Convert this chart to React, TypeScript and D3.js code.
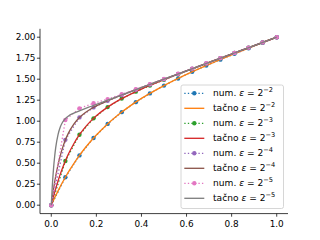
import React from 'react';
import * as d3 from 'd3';

// Numerical vs exact solutions for several epsilon values.
// Values.

const W = 320;
const H = 240;
const M = { left: 40, right: 288, top: 28.8, bottom: 213.6 };

const numX = [0, 0.0625, 0.125, 0.1875, 0.25, 0.3125, 0.375, 0.4375, 0.5,
  0.5625, 0.625, 0.6875, 0.75, 0.8125, 0.875, 0.9375, 1.0];
const numEps2 = [0, 0.333, 0.593, 0.8, 0.968, 1.108, 1.227, 1.331, 1.424,
  1.509, 1.588, 1.662, 1.733, 1.802, 1.869, 1.935, 2.0];
const numEps3 = [0, 0.527, 0.839, 1.034, 1.168, 1.269, 1.352, 1.425, 1.493,
  1.559, 1.623, 1.686, 1.749, 1.812, 1.875, 1.937, 2.0];
const numEps4 = [0, 0.778, 1.045, 1.164, 1.243, 1.311, 1.374, 1.437, 1.5,
  1.5625, 1.625, 1.6875, 1.75, 1.8125, 1.875, 1.9375, 2.0];
const numEps5 = [0, 1.015, 1.153, 1.213, 1.263, 1.32, 1.38, 1.441, 1.502,
  1.564, 1.626, 1.689, 1.751, 1.813, 1.876, 1.938, 2.0];

const exactX = [0, 0.005, 0.01, 0.015, 0.02, 0.03, 0.04, 0.05, 0.0625, 0.075,
  0.1, 0.125, 0.15, 0.175, 0.2, 0.25, 0.3, 0.35, 0.4, 0.5, 0.6, 0.7, 0.8, 0.9, 1.0];
const exactEps2 = [0, 0.03, 0.059, 0.088, 0.116, 0.17, 0.223, 0.273, 0.333, 0.39,
  0.496, 0.593, 0.681, 0.762, 0.836, 0.968, 1.082, 1.182, 1.271, 1.424, 1.557,
  1.676, 1.788, 1.896, 2.0];
const exactEps3 = [0, 0.054, 0.105, 0.154, 0.201, 0.289, 0.37, 0.444, 0.527, 0.603,
  0.732, 0.839, 0.927, 1.001, 1.065, 1.168, 1.25, 1.32, 1.382, 1.493, 1.598,
  1.699, 1.8, 1.9, 2.0];
const exactEps4 = [0, 0.1, 0.191, 0.274, 0.35, 0.481, 0.591, 0.682, 0.776, 0.852,
  0.965, 1.043, 1.1, 1.145, 1.182, 1.243, 1.298, 1.349, 1.4, 1.5, 1.6,
  1.7, 1.8, 1.9, 2.0];
const exactEps5 = [0, 0.248, 0.436, 0.58, 0.691, 0.841, 0.932, 0.988, 1.031, 1.06,
  1.096, 1.124, 1.15, 1.175, 1.2, 1.25, 1.3, 1.35, 1.4, 1.5, 1.6,
  1.7, 1.8, 1.9, 2.0];

const epsExp = ['2', '3', '4', '5'];
const numSeries = [numEps2, numEps3, numEps4, numEps5];
const exactSeries = [exactEps2, exactEps3, exactEps4, exactEps5];
const numColors = ['#1f77b4', '#2ca02c', '#9467bd', '#e377c2'];
const exactColors = ['#ff7f0e', '#d62728', '#8c564b', '#7f7f7f'];

const xTicks = [0, 0.2, 0.4, 0.6, 0.8, 1.0];
const yTicks = [0, 0.25, 0.5, 0.75, 1.0, 1.25, 1.5, 1.75, 2.0];

const FONT = 'DejaVu Sans, sans-serif';
const LW = 1.33;
const DOT = '1.33,2.2';

const x = d3.scaleLinear().domain([-0.05, 1.05]).range([M.left, M.right]);
const y = d3.scaleLinear().domain([-0.1, 2.1]).range([M.bottom, M.top]);

const numLine = d3.line<number>().x((_, i) => x(numX[i])).y(d => y(d));
const exactLine = d3.line<number>()
  .x((_, i) => x(exactX[i])).y(d => y(d))
  .curve(d3.curveMonotoneX);

function Label({ kind, exp }: { kind: string; exp: string }) {
  return (
    <>
      <tspan>{kind} </tspan>
      <tspan fontStyle="italic">ε</tspan>
      <tspan> = 2</tspan>
      <tspan dy={-4} fontSize={6.6}>−{exp}</tspan>
    </>
  );
}

export default function App() {
  // legend entries in draw order
  const entries: { kind: string; exp: string; color: string; dotted: boolean }[] = [];
  epsExp.forEach((e, i) => {
    entries.push({ kind: 'num.', exp: e, color: numColors[i], dotted: true });
    entries.push({ kind: 'tačno', exp: e, color: exactColors[i], dotted: false });
  });

  const lg = { x: 181, y: 85, w: 102.5, h: 123.5 };
  const rowY = (i: number) => 93.3 + i * 15;

  return (
    <div style={{ position: 'absolute', left: 0, top: 0 }}>
      <svg width={W} height={H} style={{ display: 'block', background: '#fff' }}>
        {/* series */}
        {epsExp.map((e, i) => (
          <g key={e}>
            <path d={numLine(numSeries[i]) || ''} fill="none" stroke={numColors[i]}
              strokeWidth={LW} strokeDasharray={DOT} />
            {numSeries[i].map((v, j) => (
              <circle key={j} cx={x(numX[j])} cy={y(v)} r={2.2} fill={numColors[i]} />
            ))}
            <path d={exactLine(exactSeries[i]) || ''} fill="none" stroke={exactColors[i]}
              strokeWidth={LW} />
          </g>
        ))}

        {/* axes */}
        <line x1={M.left} x2={M.left} y1={M.top} y2={M.bottom} stroke="#000" strokeWidth={0.75} />
        <line x1={M.left} x2={M.right} y1={M.bottom} y2={M.bottom} stroke="#000" strokeWidth={0.75} />
        {yTicks.map(t => (
          <g key={t}>
            <line x1={M.left - 3.1} x2={M.left} y1={y(t)} y2={y(t)} stroke="#000" strokeWidth={0.75} />
            <text x={35.5} y={y(t)} dy="0.35em" textAnchor="end" fontFamily={FONT}
              fontSize={8.9} fill="#000">{t.toFixed(2)}</text>
          </g>
        ))}
        {xTicks.map(t => (
          <g key={t}>
            <line x1={x(t)} x2={x(t)} y1={M.bottom} y2={M.bottom + 3.1} stroke="#000" strokeWidth={0.75} />
            <text x={x(t)} y={226.5} textAnchor="middle" fontFamily={FONT}
              fontSize={8.9} fill="#000">{t.toFixed(1)}</text>
          </g>
        ))}

        {/* legend */}
        <rect x={lg.x} y={lg.y} width={lg.w} height={lg.h} rx={2} fill="#fff"
          fillOpacity={0.8} stroke="#cccccc" strokeWidth={0.8} />
        {entries.map((en, i) => (
          <g key={i}>
            <line x1={184.3} x2={204.3} y1={rowY(i)} y2={rowY(i)} stroke={en.color}
              strokeWidth={LW} strokeDasharray={en.dotted ? DOT : undefined} />
            {en.dotted && <circle cx={194.3} cy={rowY(i)} r={2.2} fill={en.color} />}
            <text x={213} y={rowY(i)} dy="0.35em" fontFamily={FONT} fontSize={9.1} fill="#000">
              <Label kind={en.kind} exp={en.exp} />
            </text>
          </g>
        ))}
      </svg>
    </div>
  );
}
